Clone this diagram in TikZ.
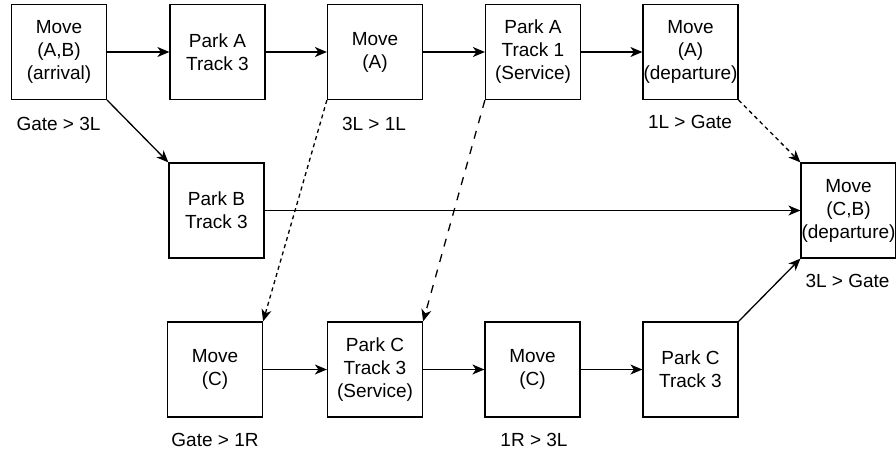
\documentclass[tikz,border=0pt]{standalone}
\usepackage{fontspec}
\setmainfont{Liberation Sans}
\usetikzlibrary{arrows.meta}
\begin{document}
\begin{tikzpicture}[x=1pt,y=-1pt,
  box/.style={draw=black,line width=1.2pt,minimum width=95pt,minimum height=95pt,inner sep=0pt,align=center,font=\fontsize{19}{23}\selectfont},
  lbl/.style={font=\fontsize{19}{23}\selectfont,inner sep=0pt},
  conn/.style={line width=1.3pt,-{Stealth[length=12pt,width=10pt,inset=3.5pt]}},
  shortdash/.style={dash pattern=on 4pt off 3.5pt},
  longdash/.style={dash pattern=on 8pt off 8pt}]
\useasboundingbox (0,0) rectangle (896,453);
\node[box] (mab) at (59,52) {Move\\(A,B)\\(arrival)};
\node[box] (pa3) at (217.5,52) {Park A\\Track 3};
\node[box] (ma) at (375,52) {Move\\(A)};
\node[box] (pa1) at (533,52) {Park A\\Track 1\\(Service)};
\node[box] (mad) at (690.5,52) {Move\\(A)\\(departure)};
\node[box] (pb3) at (216.5,210.5) {Park B\\Track 3};
\node[box] (mcb) at (848.5,210.5) {Move\\(C,B)\\(departure)};
\node[box] (mc) at (215,369.5) {Move\\(C)};
\node[box] (pcs) at (375,369.5) {Park C\\Track 3\\(Service)};
\node[box] (mc2) at (532.5,369.5) {Move\\(C)};
\node[box] (pc3) at (690.5,369.5) {Park C\\Track 3};
\node[lbl] (l1) at (58.5,124) {Gate > 3L};
\node[lbl] (l2) at (374,124) {3L > 1L};
\node[lbl] (l3) at (690,122) {1L > Gate};
\node[lbl] (l4) at (847.5,281) {3L > Gate};
\node[lbl] (l5) at (215,440) {Gate > 1R};
\node[lbl] (l6) at (534,440) {1R > 3L};
\draw[conn] (mab) -- (pa3);
\draw[conn] (pa3) -- (ma);
\draw[conn] (ma) -- (pa1);
\draw[conn] (pa1) -- (mad);
\draw[conn] (mab.south east) -- (pb3.north west);
\draw[conn] (pb3) -- (mcb);
\draw[conn,shortdash] (mad.south east) -- (mcb.north west);
\draw[conn,shortdash] (ma.south west) -- (mc.north east);
\draw[conn,longdash] (pa1.south west) -- (pcs.north east);
\draw[conn] (mc) -- (pcs);
\draw[conn] (pcs) -- (mc2);
\draw[conn] (mc2) -- (pc3);
\draw[conn] (pc3.north east) -- (mcb.south west);
\end{tikzpicture}
\end{document}
